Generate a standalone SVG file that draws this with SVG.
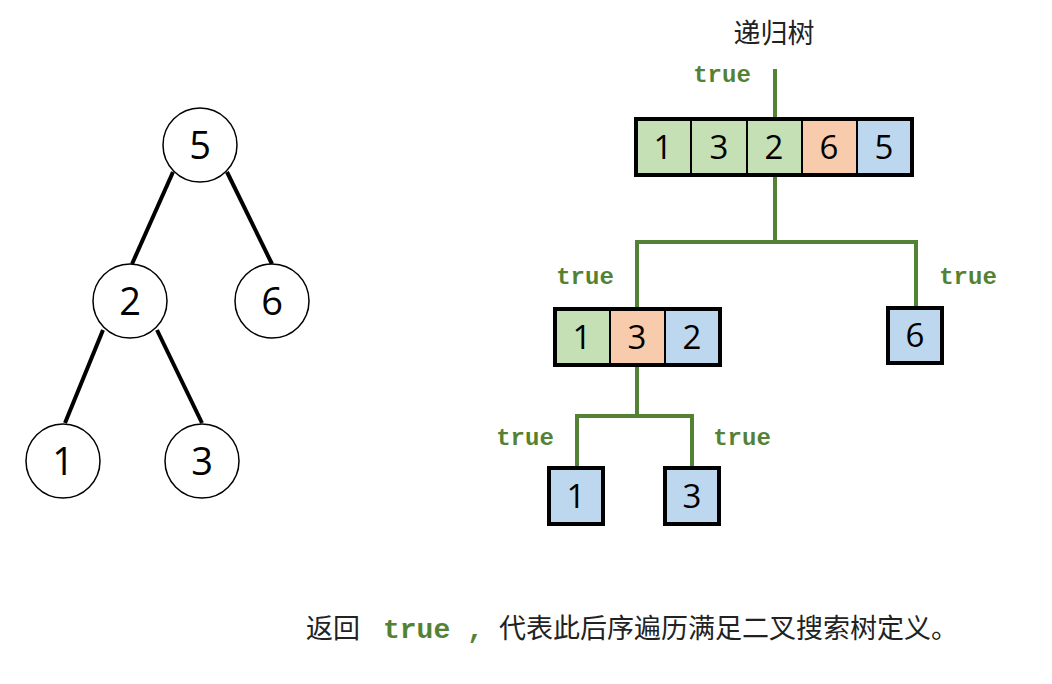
<svg xmlns="http://www.w3.org/2000/svg" width="1052" height="684" viewBox="0 0 1052 684">
<style>
.c{fill:#fff;stroke:#000;stroke-width:1.5}
.e{stroke:#000;stroke-width:4;fill:none}
.g{stroke:#548235;stroke-width:4;fill:none}
.d{font-family:"Open Sans","Noto Sans",sans-serif;fill:#000;text-anchor:middle}
.cd{font-size:38px}
.ad{font-size:33px}
.t{font-family:"Liberation Mono","DejaVu Sans Mono",monospace;font-weight:bold;font-size:24px;fill:#548235;text-anchor:middle}
.box{stroke:#000;stroke-width:4}
.div{stroke:#000;stroke-width:2}
.gr{fill:#C5E0B4}.or{fill:#F8CBAD}.bl{fill:#BDD7EE}
.cjk{font-family:"Noto Sans CJK SC",sans-serif;font-size:27px;fill:#222}
</style>
<rect width="1052" height="684" fill="#fff"/>
<g id="tree-edges">
<line class="e" x1="173" y1="172" x2="132" y2="264"/>
<line class="e" x1="227" y1="172" x2="272" y2="264"/>
<line class="e" x1="103" y1="330" x2="65" y2="423"/>
<line class="e" x1="157" y1="330" x2="202" y2="423"/>
</g>
<g id="n5"><circle class="c" cx="200" cy="145" r="37"/><text class="d cd" x="200" y="159">5</text></g>
<g id="n2"><circle class="c" cx="130" cy="301" r="37"/><text class="d cd" x="130" y="315">2</text></g>
<g id="n6"><circle class="c" cx="272" cy="301" r="37"/><text class="d cd" x="272" y="315">6</text></g>
<g id="n1"><circle class="c" cx="63" cy="461" r="37"/><text class="d cd" x="63" y="475">1</text></g>
<g id="n3"><circle class="c" cx="202" cy="461" r="37"/><text class="d cd" x="202" y="475">3</text></g>
<text class="cjk" x="774" y="43" text-anchor="middle">递归树</text>
<g id="connectors">
<line class="g" x1="775" y1="69" x2="775" y2="119"/>
<polyline class="g" points="775,175 775,242 637,242 637,309"/>
<polyline class="g" points="775,242 916,242 916,308"/>
<polyline class="g" points="637,365 637,416 577,416 577,468"/>
<polyline class="g" points="637,416 692,416 692,468"/>
</g>
<g id="labels">
<text class="t" x="722" y="82">true</text>
<text class="t" x="585" y="284">true</text>
<text class="t" x="968" y="284">true</text>
<text class="t" x="525" y="445">true</text>
<text class="t" x="742" y="445">true</text>
</g>
<g id="arr-root">
<rect class="gr" x="636" y="119" width="166" height="56"/>
<rect class="or" x="802" y="119" width="55" height="56"/>
<rect class="bl" x="857" y="119" width="55" height="56"/>
<line class="div" x1="691" y1="119" x2="691" y2="175"/>
<line class="div" x1="747" y1="119" x2="747" y2="175"/>
<line class="div" x1="802" y1="119" x2="802" y2="175"/>
<line class="div" x1="857" y1="119" x2="857" y2="175"/>
<rect class="box" x="636" y="119" width="276" height="56" fill="none"/>
<text class="d ad" x="663" y="159">1</text>
<text class="d ad" x="719" y="159">3</text>
<text class="d ad" x="774" y="159">2</text>
<text class="d ad" x="829" y="159">6</text>
<text class="d ad" x="884" y="159">5</text>
</g>
<g id="arr-left">
<rect class="gr" x="555" y="309" width="55" height="56"/>
<rect class="or" x="610" y="309" width="55" height="56"/>
<rect class="bl" x="665" y="309" width="55" height="56"/>
<line class="div" x1="610" y1="309" x2="610" y2="365"/>
<line class="div" x1="665" y1="309" x2="665" y2="365"/>
<rect class="box" x="555" y="309" width="165" height="56" fill="none"/>
<text class="d ad" x="582" y="349">1</text>
<text class="d ad" x="637" y="349">3</text>
<text class="d ad" x="692" y="349">2</text>
</g>
<g id="arr-6">
<rect class="box bl" x="888" y="308" width="54" height="55"/>
<text class="d ad" x="915" y="347">6</text>
</g>
<g id="arr-1">
<rect class="box bl" x="549" y="468" width="54" height="56"/>
<text class="d ad" x="576" y="508">1</text>
</g>
<g id="arr-3">
<rect class="box bl" x="665" y="468" width="54" height="56"/>
<text class="d ad" x="692" y="508">3</text>
</g>
<text class="cjk" x="306" y="638">返回<tspan x="383" font-family="Liberation Mono, monospace" font-weight="bold" font-size="28" fill="#548235">true ,</tspan><tspan x="499">代表此后序遍历满足二叉搜索树定义。</tspan></text>
</svg>
